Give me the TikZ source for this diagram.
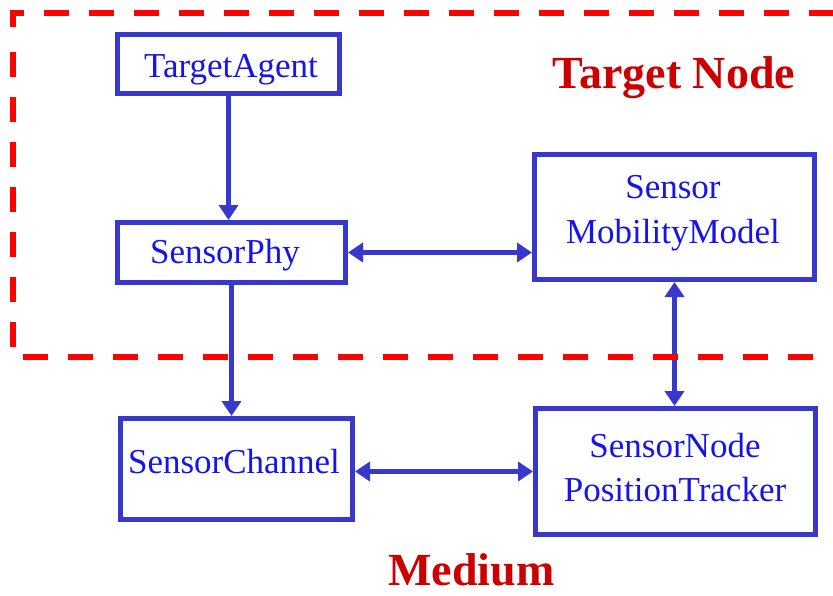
\documentclass[tikz,border=0pt]{standalone}
\usepackage{fontspec}
\setmainfont{Liberation Serif}
\usetikzlibrary{arrows.meta}
\definecolor{boxblue}{RGB}{56,56,204}
\definecolor{textblue}{RGB}{20,20,235}
\definecolor{labelred}{RGB}{204,0,0}
\definecolor{framered}{RGB}{255,0,0}
\begin{document}
\begin{tikzpicture}[x=1pt,y=-1pt,
  module/.style={draw=boxblue, line width=5pt, inner sep=0pt},
  modtext/.style={text=textblue, font=\fontsize{35}{44}\selectfont, anchor=base, inner sep=0pt},
  tip/.tip={Triangle[length=15pt,width=19pt]},
  link/.style={draw=boxblue, line width=5.5pt, -tip},
  twoway/.style={draw=boxblue, line width=5.5pt, tip-tip},
  region/.style={draw=framered, line width=6pt, dash pattern=on 25pt off 20pt},
  regionlabel/.style={text=labelred, font=\fontsize{46}{50}\selectfont\bfseries, anchor=base, inner sep=0pt}]

\useasboundingbox (0,0) rectangle (833,595);

% module boxes
\node[module, minimum width=222pt, minimum height=59pt]  (ta) at (228.5,64)  {};
\node[module, minimum width=228pt, minimum height=60pt]  (sp) at (231.5,252.5) {};
\node[module, minimum width=280pt, minimum height=125pt] (mm) at (674.5,217) {};
\node[module, minimum width=232pt, minimum height=101pt] (sc) at (236.5,469) {};
\node[module, minimum width=280pt, minimum height=126pt] (pt) at (675.5,471.5) {};

% module names
\node[modtext] (tat)  at (231,77)  {TargetAgent};
\node[modtext] (spt)  at (225,263) {SensorPhy};
\node[modtext] (mmt1) at (673,198) {Sensor};
\node[modtext] (mmt2) at (673,243) {MobilityModel};
\node[modtext] (sct)  at (234,473) {SensorChannel};
\node[modtext] (ptt1) at (675,457) {SensorNode};
\node[modtext] (ptt2) at (675,501) {PositionTracker};

% connectors
\draw[link]   (ta.south) -- (ta.south |- sp.north);
\draw[link]   (sp.south) -- (sp.south |- sc.north);
\draw[twoway] (sp.east)  -- (sp.east -| mm.west);
\draw[twoway] (mm.south) -- (mm.south |- pt.north);
\draw[twoway] (pt.west -| sc.east) -- (pt.west);

% target node region (open to the right)
\begin{scope}
  \clip (0,0) rectangle (833,595);
  \draw[region] (13,27) -- (13,13) -- (900,13);
  \draw[region] (13,52) -- (13,357) -- (900,357);
\end{scope}

% region labels
\node[regionlabel] (tn)  at (674,88)  {Target Node};
\node[regionlabel] (med) at (471.5,585) {Medium};
\end{tikzpicture}
\end{document}
